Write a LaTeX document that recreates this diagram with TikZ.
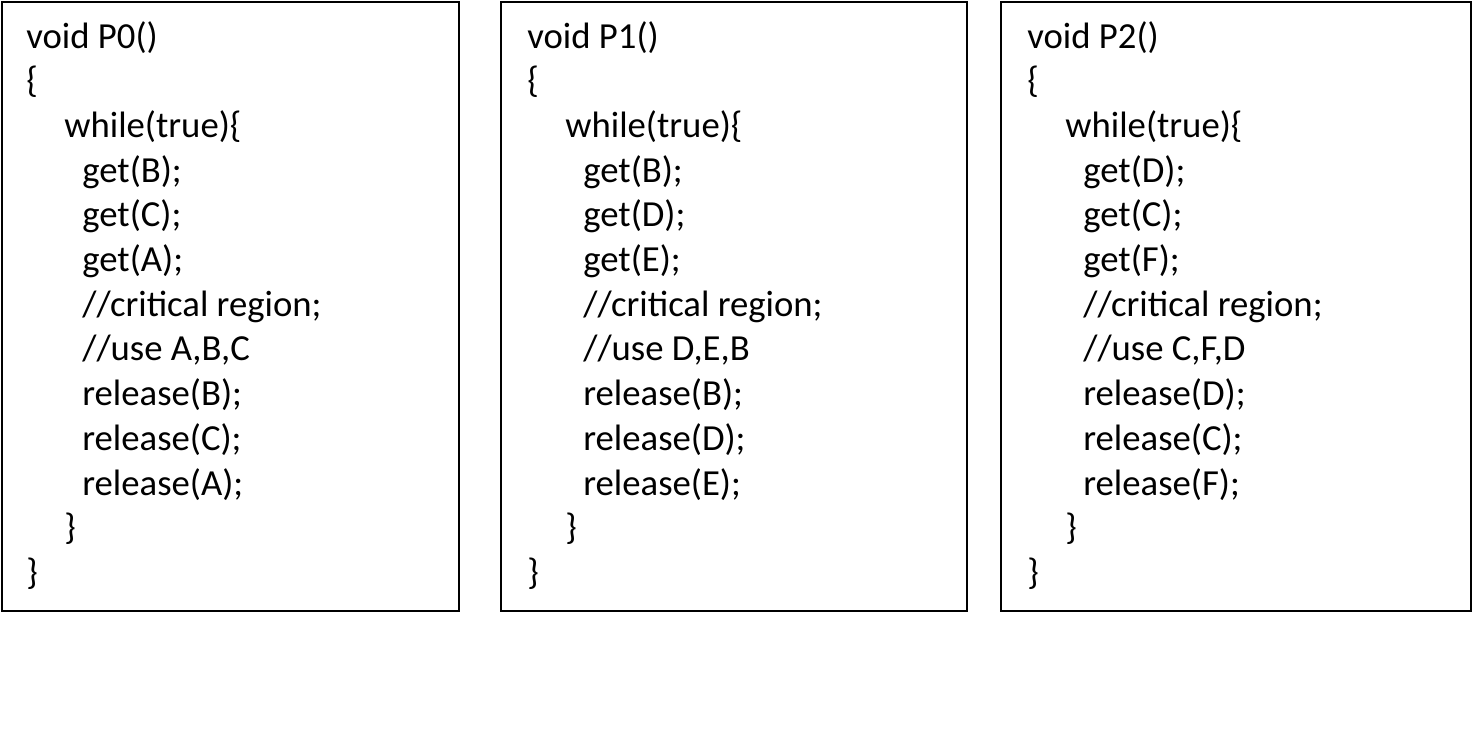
\documentclass[tikz,border=0pt]{standalone}
\usepackage{fontspec}
\setmainfont{Carlito}
\usepackage{tikz}
\tikzset{
    procbox/.style={draw=black,line width=1.2pt,fill=white,inner sep=0pt,anchor=north west,minimum height=12.18cm},
    codeline/.style={anchor=base west,inner sep=0pt,font=\fontsize{20.9pt}{25pt}\selectfont}
}
\begin{document}
\begin{tikzpicture}[x=0.02cm,y=-0.02cm]
    \useasboundingbox (0,0) rectangle (1474,744);
    % process P0
    \node[procbox,minimum width=9.14cm] (p0box) at (1,1) {};
    \foreach \dx/\t [count=\i from 0] in {0/{void P0()},0/{\{},38/{while(true)\{},56/{get(B);},56/{get(C);},56/{get(A);},56/{//critical region;},56/{//use A,B,C},56/{release(B);},56/{release(C);},56/{release(A);},38/{\}},0/{\}}}
        \node[codeline] (p0l\i) at (26+\dx,48+44.7*\i) {\t};
    % process P1
    \node[procbox,minimum width=9.32cm] (p1box) at (500,1) {};
    \foreach \dx/\t [count=\i from 0] in {0/{void P1()},0/{\{},38/{while(true)\{},56/{get(B);},56/{get(D);},56/{get(E);},56/{//critical region;},56/{//use D,E,B},56/{release(B);},56/{release(D);},56/{release(E);},38/{\}},0/{\}}}
        \node[codeline] (p1l\i) at (527+\dx,48+44.7*\i) {\t};
    % process P2
    \node[procbox,minimum width=9.4cm] (p2box) at (1000,1) {};
    \foreach \dx/\t [count=\i from 0] in {0/{void P2()},0/{\{},38/{while(true)\{},56/{get(D);},56/{get(C);},56/{get(F);},56/{//critical region;},56/{//use C,F,D},56/{release(D);},56/{release(C);},56/{release(F);},38/{\}},0/{\}}}
        \node[codeline] (p2l\i) at (1027+\dx,48+44.7*\i) {\t};
\end{tikzpicture}
\end{document}
